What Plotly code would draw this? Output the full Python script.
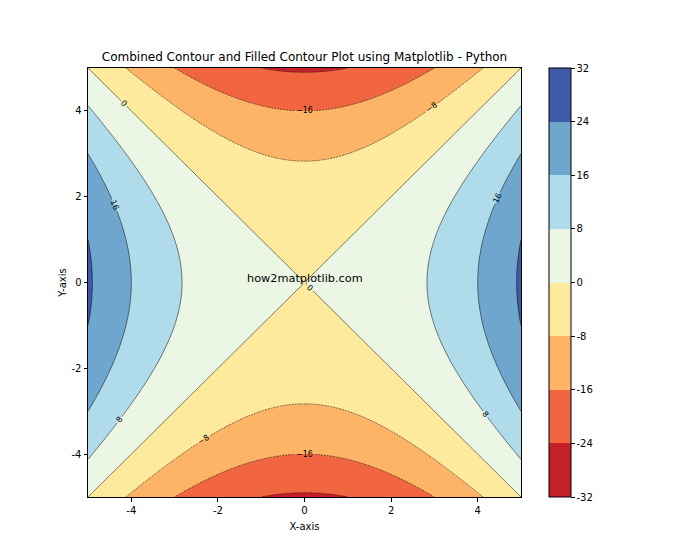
import numpy as np
import plotly.graph_objects as go

# grid for z = x^2 - y^2
x_vals = np.linspace(-5, 5, 100)
y_vals = np.linspace(-5, 5, 100)
X, Y = np.meshgrid(x_vals, y_vals)
Z = X**2 - Y**2

levels_start, levels_end, levels_step = -32, 32, 8
band_colors = ["#c4202a", "#f16640", "#fdb466", "#feea9c",
               "#ecf6e4", "#b0dbea", "#6fa6cd", "#3e5ba9"]
cbar_ticks = list(range(-32, 33, 8))
cbar_ticktext = [str(v) for v in cbar_ticks]
axis_ticks = [-4, -2, 0, 2, 4]
axis_ticktext = [str(v) for v in axis_ticks]

n = len(band_colors)
colorscale = []
for i, c in enumerate(band_colors):
    colorscale.append([i / n, c])
    colorscale.append([(i + 1) / n, c])

fig = go.Figure()
fig.add_trace(go.Contour(
    x=x_vals, y=y_vals, z=Z,
    contours=dict(coloring="fill", start=levels_start, end=levels_end, size=levels_step),
    colorscale=colorscale, zmin=-32, zmax=32, zauto=False,
    line=dict(width=0),
    colorbar=dict(
        x=1.0647, xanchor="left", y=0.5, yanchor="middle",
        len=1, lenmode="fraction", thickness=22, ypad=0, xpad=0,
        outlinecolor="black", outlinewidth=1,
        tickmode="array", tickvals=cbar_ticks, ticktext=cbar_ticktext,
        ticks="outside", ticklen=3.5,
        tickcolor="black", tickfont=dict(family="DejaVu Sans", size=10, color="black"),
    ),
    hoverinfo="skip",
))
label_font = dict(family="DejaVu Sans", size=8, color="black")
# negative levels dashed
fig.add_trace(go.Contour(
    x=x_vals, y=y_vals, z=Z,
    contours=dict(coloring="none", start=-24, end=-8, size=8, showlabels=True,
                  labelfont=label_font),
    line=dict(color="black", width=0.5, dash="2px,1px"),
    showscale=False, hoverinfo="skip",
))
# non-negative levels solid
fig.add_trace(go.Contour(
    x=x_vals, y=y_vals, z=Z,
    contours=dict(coloring="none", start=0, end=24, size=8, showlabels=True,
                  labelfont=label_font),
    line=dict(color="black", width=0.5),
    showscale=False, hoverinfo="skip",
))

fig.add_annotation(x=0, y=0, text="how2matplotlib.com", showarrow=False,
                   font=dict(family="DejaVu Sans", size=11.3, color="black"),
                   xanchor="center", yanchor="bottom", yshift=-4)

axis_common = dict(showgrid=False, zeroline=False, showline=True, linecolor="black",
                   linewidth=1, mirror=True, ticks="outside", ticklen=3.5,
                   tickcolor="black", tickfont=dict(family="DejaVu Sans", size=10, color="black"))
fig.update_xaxes(range=[-5, 5], tickmode="array", tickvals=axis_ticks, ticktext=axis_ticktext,
                 title=dict(text="X-axis", font=dict(family="DejaVu Sans", size=10, color="black"), standoff=8),
                 **axis_common)
fig.update_yaxes(range=[-5, 5], tickmode="array", tickvals=axis_ticks, ticktext=axis_ticktext,
                 title=dict(text="Y-axis", font=dict(family="DejaVu Sans", size=10, color="black"), standoff=3),
                 **axis_common)

fig.update_layout(
    width=700, height=560,
    margin=dict(l=88, r=179, t=68, b=63),
    paper_bgcolor="white", plot_bgcolor="white",
    title=dict(text="Combined Contour and Filled Contour Plot using Matplotlib - Python",
               x=(88 + 521) / 2 / 700, xanchor="center", y=1 - 57 / 560, yanchor="middle",
               font=dict(family="DejaVu Sans", size=12, color="black")),
    showlegend=False,
)

fig.write_html("out.html")
